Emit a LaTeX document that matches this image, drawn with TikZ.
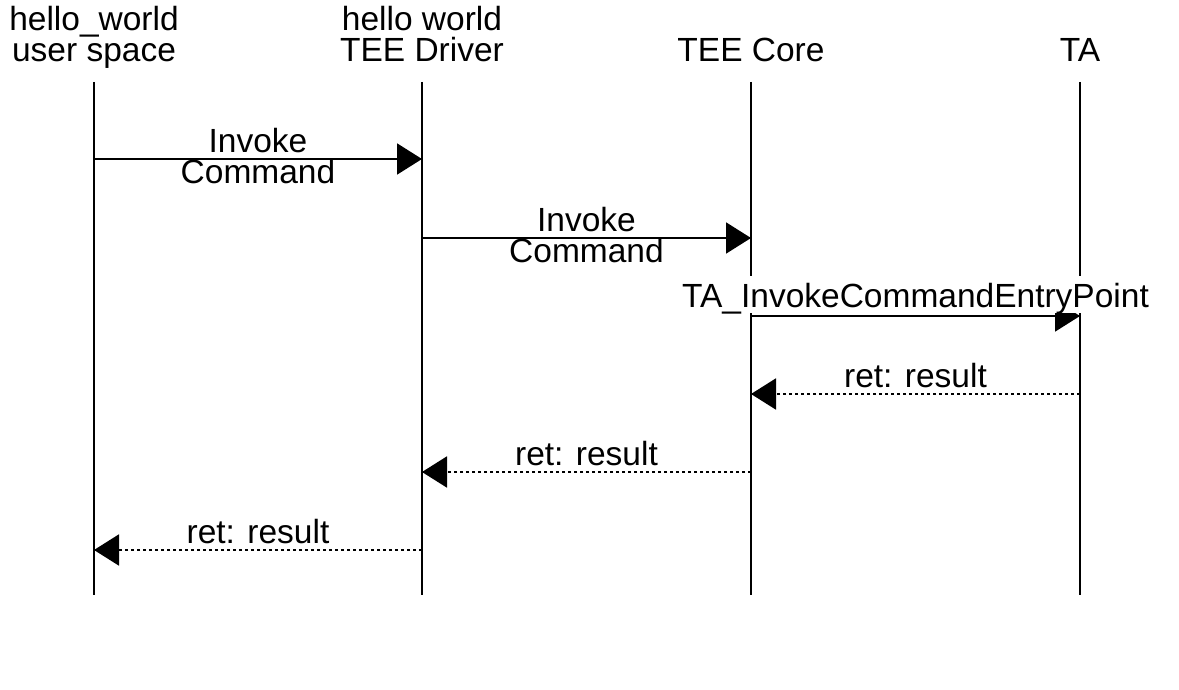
\documentclass[tikz,border=0pt]{standalone}
\usepackage{fontspec}
\setmainfont{Liberation Sans}
\usetikzlibrary{arrows.meta}

\begin{document}
\begin{tikzpicture}[x=0.5pt, y=-0.5pt, font=\fontsize{16.75pt}{15.5pt}\selectfont,
    h/.style={anchor=south, align=center, inner sep=0pt, text depth=0pt},
    l/.style={line width=1pt},
    m/.style={l, -{Triangle[length=12.5pt, width=15.5pt]}},
    r/.style={m, dash pattern=on 1.5pt off 1.5pt},
    t/.style={anchor=base, inner sep=0pt, yshift=3.5pt},
    tt/.style={anchor=south, align=center, inner sep=0pt, text depth=0pt, yshift=-13pt}]
		\useasboundingbox (0,0) rectangle (1179,690);

		\node[h] (U) at (94,62) {hello\_world\\user space};
		\node[h] (D) at (422,62) {hello world\\TEE Driver};
		\node[h] (C) at (751,62) {TEE Core};
		\node[h] (T) at (1080,62) {TA};

		\foreach \n in {U, D, C, T}
			\draw[l] (\n |- 0,82) -- (\n |- 0,595);

		\path[m] (U |- 0,159) edge node[tt] {Invoke\\Command} (D |- 0,159);
		\path[m] (D |- 0,238) edge node[tt] {Invoke\\Command} (C |- 0,238);
		\path[m] (C |- 0,316) edge node[t, yshift=1pt, fill=white, text height=15.5pt, text depth=3pt] {TA\_InvokeCommandEntryPoint} (T |- 0,316);
		\path[r] (T |- 0,394) edge node[t] {ret: result} (C |- 0,394);
		\path[r] (C |- 0,472) edge node[t] {ret: result} (D |- 0,472);
		\path[r] (D |- 0,550) edge node[t] {ret: result} (U |- 0,550);
	\end{tikzpicture}
\end{document}
